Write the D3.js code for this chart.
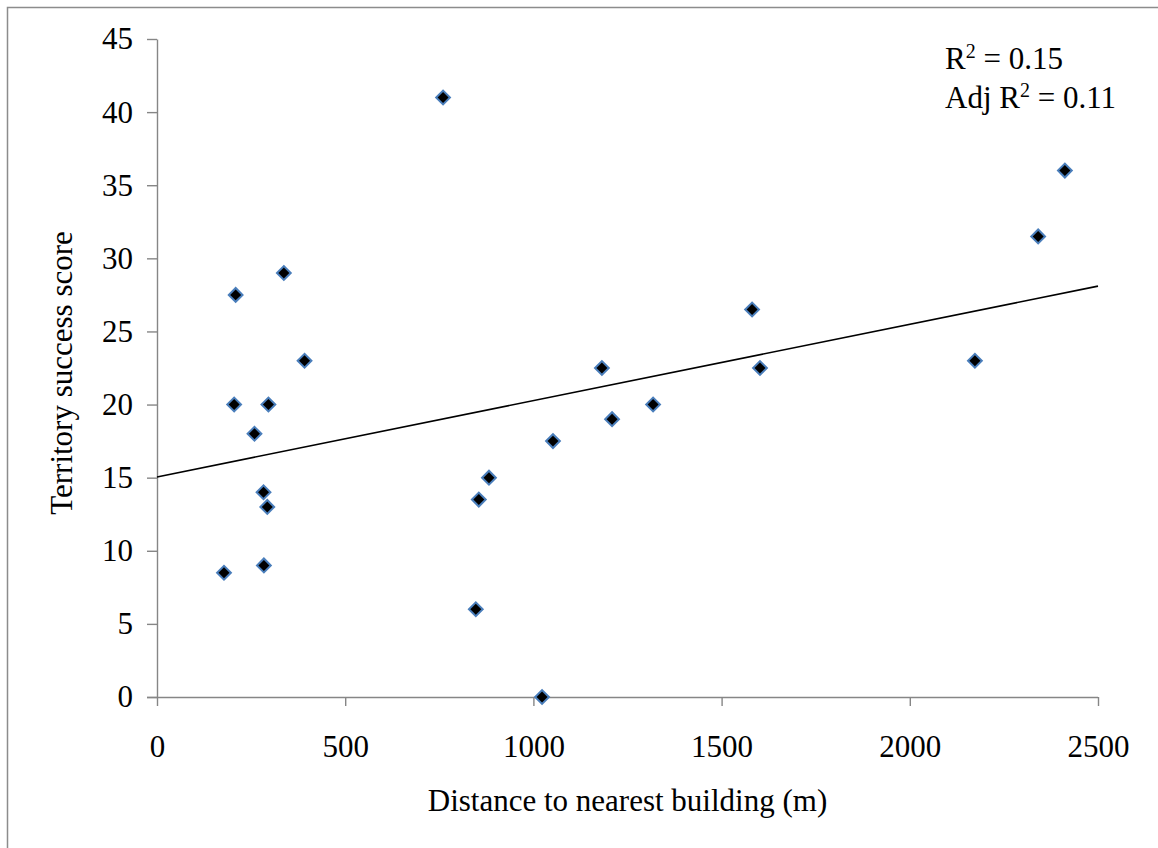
<!DOCTYPE html>
<html>
<head>
<meta charset="utf-8">
<script src="https://cdn.jsdelivr.net/npm/d3@7"></script>
<style>
  body { margin: 0; background: #fff; }
  svg text { font-family: "Liberation Serif", "Times New Roman", serif; fill: #000; }
</style>
</head>
<body>
<svg id="root" width="1158" height="848"></svg>
<script>
//Data
const distance = [178, 209, 205, 259, 337, 283, 293, 284, 296, 392,
                  760, 847, 855, 882, 1023, 1052, 1182, 1209, 1318,
                  1581, 1602, 2173, 2341, 2412];
const score = [8.5, 27.5, 20, 18, 29, 14, 13, 9, 20, 23,
               41, 6, 13.5, 15, 0, 17.5, 22.5, 19, 20,
               26.5, 22.5, 23, 31.5, 36];
const xTicks = [0, 500, 1000, 1500, 2000, 2500];
const yTicks = [0, 5, 10, 15, 20, 25, 30, 35, 40, 45];
const trend = [[0, 15.05], [2500, 28.1]]; //fitted line ends
const statsLines = ["0.15", "0.11"];

function createChart() {
    const svg = d3.select("#root");
    const left = 157, right = 1098, top = 39, bottom = 697;
    const fontSize = "31px";

    //Outer frame (runs off the page right and bottom)
    svg.append("rect")
        .attr("x", 7.5).attr("y", 7.5)
        .attr("width", 1200).attr("height", 900)
        .attr("fill", "none")
        .attr("stroke", "#8c8c8c")
        .attr("stroke-width", 1.5);

    const x = d3.scaleLinear().domain([0, 2500]).range([left, right]);
    const y = d3.scaleLinear().domain([0, 45]).range([bottom, top]);

    //Axes
    const xAxis = svg.append("g")
        .attr("transform", `translate(0, ${bottom})`)
        .call(d3.axisBottom(x).tickValues(xTicks).tickFormat(d3.format("d"))
            .tickSize(9).tickPadding(29).tickSizeOuter(0));
    svg.append("g")
        .attr("transform", `translate(${left}, 0)`)
        .call(d3.axisLeft(y).tickValues(yTicks).tickFormat(d3.format("d"))
            .tickSize(10).tickPadding(14).tickSizeOuter(0));

    svg.selectAll(".domain, .tick line")
        .attr("stroke", "#868686")
        .attr("stroke-width", 1.4);
    svg.selectAll(".tick text")
        .style("font-family", '"Liberation Serif", serif')
        .style("font-size", fontSize)
        .attr("fill", "#000");
    //Excel style: horizontal axis extends under the y tick
    xAxis.select(".domain").attr("d", `M${left - 10},0.5H${right}`);

    //Trend line
    svg.append("path")
        .datum(trend)
        .attr("d", d3.line().x(d => x(d[0])).y(d => y(d[1])))
        .attr("stroke", "#000")
        .attr("stroke-width", 1.6)
        .attr("fill", "none");

    //Points
    const diamond = d3.symbol().type(d3.symbolSquare).size(95);
    svg.append("g")
        .selectAll("path")
        .data(distance)
        .enter()
        .append("path")
        .attr("d", diamond)
        .attr("transform", (d, i) => `translate(${x(d)}, ${y(score[i])}) rotate(45)`)
        .attr("fill", "#000")
        .attr("stroke", "#4a7ebb")
        .attr("stroke-width", 2);

    //Axis titles
    svg.append("text")
        .attr("x", (left + right) / 2)
        .attr("y", 811)
        .attr("text-anchor", "middle")
        .style("font-size", fontSize)
        .text("Distance to nearest building (m)");
    svg.append("text")
        .attr("transform", `translate(72, ${(top + bottom) / 2 + 5}) rotate(-90)`)
        .attr("text-anchor", "middle")
        .style("font-size", fontSize)
        .text("Territory success score");

    //Fit statistics
    const stats = svg.append("g").style("font-size", fontSize);
    const t1 = stats.append("text").attr("x", 945).attr("y", 69);
    t1.append("tspan").text("R");
    t1.append("tspan").attr("dy", -11).style("font-size", "20px").text("2");
    t1.append("tspan").attr("dy", 11).text(" = " + statsLines[0]);
    const t2 = stats.append("text").attr("x", 945).attr("y", 108);
    t2.append("tspan").text("Adj R");
    t2.append("tspan").attr("dy", -11).style("font-size", "20px").text("2");
    t2.append("tspan").attr("dy", 11).text(" = " + statsLines[1]);
}

createChart();
</script>
</body>
</html>
